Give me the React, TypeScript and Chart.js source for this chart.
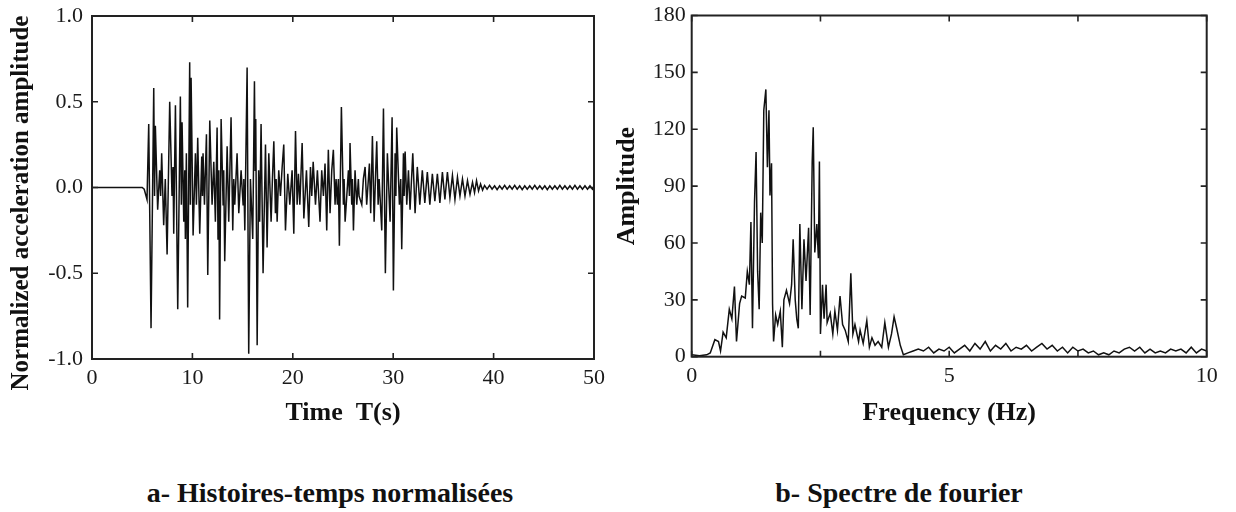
import React, { useEffect, useRef } from "react";
import { Chart, registerables } from "chart.js";

Chart.register(...registerables);

// ---------- Panel a: normalized acceleration time history ----------
const timeTicks = [0, 10, 20, 30, 40, 50];
const accTicks = [-1, -0.5, 0, 0.5, 1];
const accTimes = [
  0, 5.0, 5.2, 5.48, 5.65, 5.88, 6.15, 6.23, 6.31, 6.54, 6.74, 6.84, 6.94, 7.14, 7.3, 7.48, 7.74, 7.97, 8.07, 8.14,
  8.31, 8.54, 8.8, 8.9, 8.97, 9.14, 9.24, 9.3, 9.4, 9.53, 9.73, 9.8, 9.87, 10.07, 10.3, 10.4, 10.53, 10.73, 10.93, 11.0,
  11.06, 11.2, 11.4, 11.53, 11.73, 11.96, 12.13, 12.29, 12.46, 12.55, 12.63, 12.71, 12.86, 13.06, 13.12, 13.22, 13.46, 13.62, 13.85, 14.02,
  14.12, 14.22, 14.45, 14.62, 14.85, 15.05, 15.12, 15.22, 15.45, 15.61, 15.78, 16.01, 16.18, 16.25, 16.31, 16.45, 16.6, 16.7, 16.84, 17.04,
  17.28, 17.44, 17.61, 17.84, 17.97, 18.11, 18.27, 18.34, 18.44, 18.6, 18.77, 18.94, 19.1, 19.27, 19.5, 19.7, 19.93, 20.1, 20.27, 20.43,
  20.56, 20.7, 20.93, 21.1, 21.36, 21.59, 21.76, 21.89, 22.03, 22.26, 22.45, 22.71, 22.88, 23.05, 23.21, 23.38, 23.54, 23.71, 23.88, 24.04,
  24.21, 24.31, 24.44, 24.54, 24.64, 24.84, 25.04, 25.11, 25.21, 25.54, 25.64, 25.7, 25.87, 25.94, 26.04, 26.2, 26.37, 26.53, 26.6, 26.87,
  27.03, 27.2, 27.36, 27.63, 27.76, 27.93, 28.1, 28.23, 28.36, 28.5, 28.6, 28.86, 29.03, 29.22, 29.42, 29.69, 29.89, 30.02, 30.19, 30.27,
  30.35, 30.62, 30.75, 30.85, 31.02, 31.09, 31.19, 31.35, 31.52, 31.68, 31.95, 32.18, 32.4, 32.65, 32.9, 33.15, 33.4, 33.65, 33.9, 34.15,
  34.4, 34.65, 34.9, 35.15, 35.4, 35.65, 35.9, 36.15, 36.4, 36.65, 36.9, 37.15, 37.4, 37.65, 37.9, 38.1, 38.3, 38.5, 38.7, 38.9,
  39.1, 39.35, 39.6, 39.85, 40.1, 40.35, 40.6, 40.85, 41.1, 41.35, 41.6, 41.85, 42.1, 42.35, 42.6, 42.85, 43.1, 43.35, 43.6, 43.85,
  44.1, 44.35, 44.6, 44.85, 45.1, 45.35, 45.6, 45.85, 46.1, 46.35, 46.6, 46.85, 47.1, 47.35, 47.6, 47.85, 48.1, 48.35, 48.6, 48.85,
  49.1, 49.35, 49.6, 49.85, 50,
];
const accValues = [
  0, 0, -0.01, -0.07, 0.37, -0.82, 0.58, -0.05, 0.36, -0.13, 0.1, -0.05, 0.2, -0.22, 0.05, -0.39, 0.5, -0.05, 0.12, -0.27,
  0.48, -0.71, 0.53, -0.1, 0.38, -0.2, 0.1, -0.3, 0.2, -0.7, 0.73, -0.1, 0.64, -0.28, 0.2, -0.1, 0.29, -0.27, 0.18, -0.05,
  0.2, -0.1, 0.31, -0.51, 0.39, -0.1, 0.15, -0.2, 0.35, -0.3, 0.1, -0.77, 0.4, -0.1, 0.1, -0.43, 0.24, -0.2, 0.41, -0.25,
  0.05, -0.1, 0.2, -0.15, 0.1, -0.1, 0.05, -0.25, 0.7, -0.97, 0.05, -0.3, 0.62, 0.1, 0.4, -0.92, 0.1, -0.2, 0.37, -0.5,
  0.25, -0.35, 0.2, -0.2, 0.05, 0.27, -0.15, 0.05, -0.2, 0.1, -0.05, 0.12, 0.25, -0.25, 0.08, -0.1, 0.1, -0.27, 0.33, -0.1,
  0.08, -0.1, 0.26, -0.18, 0.1, -0.23, 0.12, -0.05, 0.15, -0.1, 0.1, -0.2, 0.1, -0.05, 0.14, -0.25, 0.22, -0.15, 0.1, 0.22,
  -0.1, 0.05, -0.1, 0.05, -0.34, 0.47, -0.1, 0.05, -0.2, 0.1, -0.05, 0.26, -0.1, 0.05, -0.25, 0.1, -0.1, 0.05, -0.05, -0.1,
  0.05, 0.12, -0.1, 0.14, -0.15, 0.3, -0.2, 0.05, 0.27, -0.1, 0.05, -0.25, 0.46, -0.5, 0.2, -0.2, 0.41, -0.6, 0.2, -0.05,
  0.35, -0.1, 0.05, -0.36, 0.2, -0.05, 0.21, -0.1, 0.1, -0.13, 0.2, -0.15, 0.12, -0.1, 0.1, -0.09, 0.09, -0.1, 0.08, -0.08,
  0.08, -0.09, 0.09, -0.07, 0.09, -0.06, 0.07, -0.07, 0.06, -0.05, 0.05, -0.05, 0.04, -0.04, 0.03, -0.03, 0.04, -0.02, 0.02, -0.015,
  0.012, -0.01, 0.012, -0.01, 0.01, -0.012, 0.01, -0.01, 0.012, -0.01, 0.01, -0.01, 0.012, -0.01, 0.01, -0.012, 0.01, -0.01, 0.01, -0.01,
  0.012, -0.01, 0.01, -0.01, 0.01, -0.012, 0.01, -0.01, 0.01, -0.01, 0.012, -0.01, 0.01, -0.01, 0.01, -0.01, 0.012, -0.01, 0.01, -0.01,
  0.01, -0.01, 0.01, -0.01, 0,
];

// ---------- Panel b: Fourier spectrum ----------
const freqTicks = [0, 2.5, 5, 7.5, 10];
const ampTicks = [0, 30, 60, 90, 120, 150, 180];
const freqs = [
  0, 0.15, 0.29, 0.36, 0.45, 0.52, 0.56, 0.61, 0.67, 0.73, 0.78, 0.83, 0.87, 0.93, 0.97, 1.04, 1.08, 1.12, 1.15, 1.18,
  1.22, 1.25, 1.28, 1.31, 1.34, 1.37, 1.4, 1.44, 1.47, 1.5, 1.52, 1.55, 1.57, 1.59, 1.63, 1.67, 1.72, 1.76, 1.79, 1.84,
  1.9, 1.94, 1.97, 2.01, 2.04, 2.07, 2.1, 2.14, 2.18, 2.22, 2.27, 2.3, 2.34, 2.36, 2.39, 2.43, 2.46, 2.48, 2.5, 2.54,
  2.57, 2.61, 2.63, 2.69, 2.74, 2.78, 2.83, 2.88, 2.93, 2.98, 3.04, 3.09, 3.13, 3.17, 3.24, 3.27, 3.33, 3.4, 3.45, 3.5,
  3.56, 3.62, 3.69, 3.75, 3.82, 3.88, 3.93, 3.98, 4.05, 4.11, 4.2, 4.3, 4.4, 4.5, 4.6, 4.7, 4.8, 4.9, 5.0, 5.1,
  5.2, 5.3, 5.4, 5.5, 5.6, 5.7, 5.8, 5.9, 6.0, 6.1, 6.2, 6.3, 6.4, 6.5, 6.6, 6.7, 6.8, 6.9, 7.0, 7.1,
  7.2, 7.3, 7.4, 7.5, 7.6, 7.7, 7.8, 7.9, 8.0, 8.1, 8.2, 8.3, 8.4, 8.5, 8.6, 8.7, 8.8, 8.9, 9.0, 9.1,
  9.2, 9.3, 9.4, 9.5, 9.6, 9.7, 9.8, 9.9, 10.0,
];
const amps = [
  1, 0.5, 1, 2, 9, 8, 3, 13, 10, 25, 20, 37, 8, 28, 32, 31, 45, 38, 71, 15,
  82, 108, 45, 25, 76, 60, 130, 141, 100, 130, 85, 102, 28, 8, 22, 17, 24, 5, 30, 35,
  28, 38, 62, 30, 20, 15, 70, 25, 62, 40, 68, 22, 103, 121, 55, 70, 52, 103, 12, 38,
  20, 38, 18, 23, 12, 24, 14, 32, 17, 14, 8, 44, 12, 17, 8, 14, 7, 19, 5, 10,
  6, 8, 5, 18, 5, 12, 21, 15, 6, 1, 2, 3, 4, 3, 5, 2, 4, 3, 5, 2,
  4, 6, 3, 7, 4, 8, 3, 6, 4, 7, 3, 5, 4, 6, 3, 5, 7, 4, 6, 3,
  5, 2, 5, 3, 4, 2, 3, 1, 2, 1, 3, 2, 4, 5, 3, 5, 2, 4, 2, 3,
  2, 4, 3, 4, 2, 5, 2, 4, 3,
];

const SERIF = '"Liberation Serif", "Times New Roman", serif';
const INK = "#1a1a1a";

const framePlugin = {
  id: "frameTicks",
  afterDatasetsDraw(chart: any) {
    const { ctx, chartArea: a, scales } = chart;
    const x = scales.x;
    const y = scales.y;
    const L = 6;
    ctx.save();
    ctx.strokeStyle = "#222";
    ctx.lineWidth = 1.6;
    ctx.beginPath();
    for (const t of x.ticks) {
      const px = x.getPixelForValue(t.value);
      ctx.moveTo(px, a.bottom);
      ctx.lineTo(px, a.bottom - L);
      ctx.moveTo(px, a.top);
      ctx.lineTo(px, a.top + L);
    }
    for (const t of y.ticks) {
      const py = y.getPixelForValue(t.value);
      ctx.moveTo(a.left, py);
      ctx.lineTo(a.left + L, py);
      ctx.moveTo(a.right, py);
      ctx.lineTo(a.right - L, py);
    }
    ctx.stroke();
    ctx.lineWidth = 2;
    ctx.strokeRect(a.left, a.top, a.right - a.left, a.bottom - a.top);
    ctx.restore();
  },
};

const leftTitlePlugin = {
  id: "leftTitle",
  afterDraw(chart: any) {
    const o = chart.options.plugins.leftTitle;
    if (!o || !o.text) return;
    const { ctx } = chart;
    ctx.save();
    ctx.translate(o.x, o.y);
    ctx.rotate(-Math.PI / 2);
    ctx.font = `bold ${o.size}px ${SERIF}`;
    ctx.fillStyle = "#111";
    ctx.textAlign = "center";
    ctx.textBaseline = "middle";
    ctx.fillText(o.text, 0, 0);
    ctx.restore();
  },
};

function makeOptions(cfg: any) {
  return {
    responsive: false,
    maintainAspectRatio: false,
    animation: false,
    devicePixelRatio: 1,
    layout: { padding: cfg.padding },
    plugins: {
      legend: { display: false },
      tooltip: { enabled: false },
      leftTitle: cfg.leftTitle,
    },
    elements: { point: { radius: 0 } },
    scales: {
      x: {
        type: "linear",
        min: cfg.xMin,
        max: cfg.xMax,
        afterFit: (s: any) => {
          s.height = cfg.xHeight;
          s.paddingLeft = 0;
          s.paddingRight = 0;
        },
        afterBuildTicks: (s: any) => {
          s.ticks = cfg.xTicks.map((v: number) => ({ value: v }));
        },
        grid: { display: false, drawTicks: false },
        border: { display: false },
        ticks: {
          autoSkip: false,
          maxRotation: 0,
          padding: 6,
          color: INK,
          font: { family: SERIF, size: 22 },
          callback: cfg.xLabel,
        },
        title: {
          display: true,
          text: cfg.xTitle,
          color: "#111",
          font: { family: SERIF, size: 26, weight: "bold" },
          padding: { top: 0, bottom: 11 },
        },
      },
      y: {
        type: "linear",
        min: cfg.yMin,
        max: cfg.yMax,
        afterFit: (s: any) => {
          s.width = cfg.yWidth;
          s.paddingTop = 0;
          s.paddingBottom = 0;
        },
        afterBuildTicks: (s: any) => {
          s.ticks = cfg.yTicks.map((v: number) => ({ value: v }));
        },
        grid: { display: false, drawTicks: false },
        border: { display: false },
        ticks: {
          autoSkip: false,
          padding: cfg.yPad,
          color: INK,
          font: { family: SERIF, size: 22 },
          callback: cfg.yLabel,
        },
        title: cfg.yTitle
          ? {
              display: true,
              text: cfg.yTitle,
              color: "#111",
              font: { family: SERIF, size: 26, weight: "bold" },
              padding: { top: 6, bottom: 0 },
            }
          : { display: false },
      },
    },
  };
}

export default function App() {
  const leftRef = useRef<HTMLCanvasElement>(null);
  const rightRef = useRef<HTMLCanvasElement>(null);

  useEffect(() => {
    const left = new Chart(leftRef.current as HTMLCanvasElement, {
      type: "line",
      data: {
        datasets: [
          {
            data: accTimes.map((t, i) => ({ x: t, y: accValues[i] })),
            borderColor: "#111",
            borderWidth: 1.5,
            tension: 0,
            fill: false,
          },
        ],
      },
      options: makeOptions({
        padding: { top: 16, right: 12, left: 0, bottom: 0 },
        xMin: 0,
        xMax: 50,
        xTicks: timeTicks,
        xHeight: 81,
        xTitle: "Time  T(s)",
        xLabel: (v: any) => String(v),
        yMin: -1,
        yMax: 1,
        yTicks: accTicks,
        yWidth: 92,
        yPad: 9,
        yLabel: (v: any) => Number(v).toFixed(1),
        leftTitle: { text: "Normalized acceleration amplitude", x: 22, y: 203, size: 25 },
      }) as any,
      plugins: [framePlugin, leftTitlePlugin],
    });

    const right = new Chart(rightRef.current as HTMLCanvasElement, {
      type: "line",
      data: {
        datasets: [
          {
            data: freqs.map((f, i) => ({ x: f, y: amps[i] })),
            borderColor: "#111",
            borderWidth: 1.5,
            tension: 0,
            fill: false,
          },
        ],
      },
      options: makeOptions({
        padding: { top: 15.5, right: 29.3, left: 0, bottom: 0 },
        xMin: 0,
        xMax: 10,
        xTicks: freqTicks,
        xHeight: 83.3,
        xTitle: "Frequency (Hz)",
        xLabel: (v: any) => (Number(v) % 5 === 0 ? String(v) : ""),
        yMin: 0,
        yMax: 180,
        yTicks: ampTicks,
        yWidth: 85.7,
        yPad: 6,
        yLabel: (v: any) => String(v),
        yTitle: "Amplitude",
      }) as any,
      plugins: [framePlugin],
    });

    return () => {
      left.destroy();
      right.destroy();
    };
  }, []);

  const caption: React.CSSProperties = {
    position: "absolute",
    width: 500,
    textAlign: "center",
    fontFamily: SERIF,
    fontWeight: "bold",
    fontSize: 28,
    lineHeight: "28px",
    color: "#111",
    top: 479,
    whiteSpace: "nowrap",
  };

  return (
    <div style={{ position: "absolute", left: 0, top: 0, width: 1236, height: 512, background: "#fff", overflow: "hidden" }}>
      <canvas ref={leftRef} width={606} height={440} style={{ position: "absolute", left: 0, top: 0, width: 606, height: 440 }} />
      <canvas ref={rightRef} width={630} height={440} style={{ position: "absolute", left: 606, top: 0, width: 630, height: 440 }} />
      <div style={{ ...caption, left: 330 - 250 }}>a- Histoires-temps normalisées</div>
      <div style={{ ...caption, left: 899 - 250 }}>b- Spectre de fourier</div>
    </div>
  );
}
